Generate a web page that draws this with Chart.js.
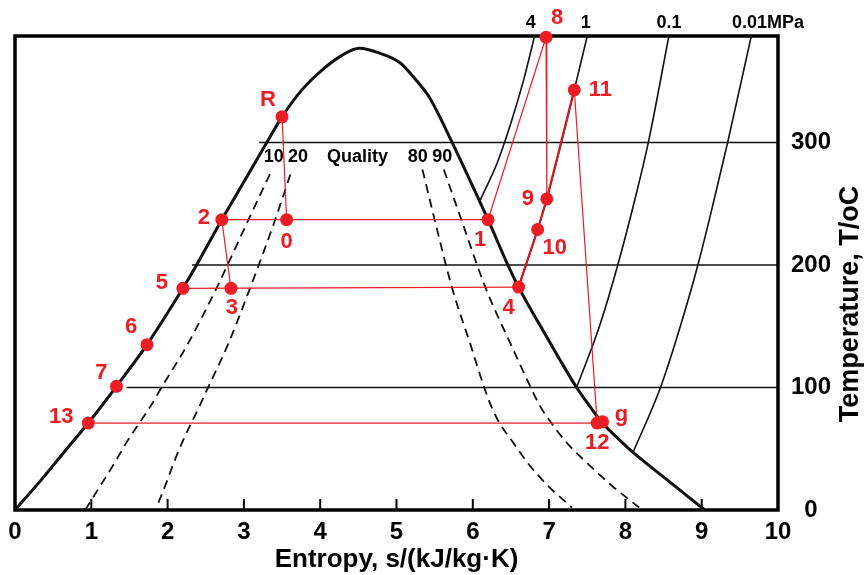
<!DOCTYPE html>
<html>
<head>
<meta charset="utf-8">
<script src="https://cdn.jsdelivr.net/npm/chart.js@4.4.0/dist/chart.umd.min.js"></script>
<style>
  html, body { margin: 0; padding: 0; background: #fff; }
  #wrap { width: 864px; height: 575px; }
</style>
</head>
<body>
<div id="wrap"><canvas id="graficoTS" width="864" height="575"></canvas></div>
<script>
// saturation dome (entropy kJ/kg.K, temperature C)
const domeS = [0, 0.35, 0.68, 0.96, 1.33, 1.73, 2.20, 2.38, 2.71, 3.02, 3.30, 3.50, 3.76, 4.02, 4.28, 4.51, 4.78, 5.05, 5.27, 5.43, 5.73, 6.09, 6.20, 6.46, 6.60, 6.86, 7.12, 7.36, 7.53, 7.70, 7.96, 8.10, 8.56, 9.04];
const domeT = [0, 25, 50, 71, 101, 135, 181, 200, 237, 270, 300, 321, 343, 359, 371, 377, 373, 365, 350, 337, 300, 252, 237, 200, 182, 153, 125, 100, 85, 71, 55, 47, 24, 0];

// quality lines (10, 20, 80, 90 %)
const q10S = [0.92, 1.12, 1.32, 1.46, 1.63, 1.78, 1.92, 2.26, 2.64, 3.06, 3.37];
const q10T = [0, 20, 40, 55, 71, 85, 100, 135, 181, 237, 278];
const q20S = [1.88, 1.97, 2.09, 2.19, 2.31, 2.42, 2.53, 2.79, 3.08, 3.41, 3.63];
const q20T = [6, 20, 40, 55, 71, 85, 100, 135, 181, 237, 278];
const q80S = [5.34, 5.50, 5.73, 5.97, 6.15, 6.24, 6.35, 6.53, 6.70, 6.98, 7.30];
const q80T = [278, 237, 181, 135, 100, 85, 71, 55, 40, 20, 2];
const q90S = [5.62, 5.85, 6.17, 6.50, 6.76, 6.88, 7.03, 7.23, 7.47, 7.82, 8.18];
const q90T = [278, 237, 181, 135, 100, 85, 71, 55, 40, 20, 2];

// isobars
const p4S = [6.09, 6.33, 6.52, 6.67, 6.81];
const p4T = [252, 285, 320, 352, 387];
const p1S = [6.60, 6.85, 6.97, 7.33, 7.50];
const p1T = [182, 229, 254, 343, 387];
const p01S = [7.36, 7.66, 7.90, 8.11, 8.30, 8.57];
const p01T = [100, 150, 200, 250, 300, 387];
const p001S = [8.10, 8.46, 8.72, 8.95, 9.15, 9.34, 9.65];
const p001T = [47, 100, 150, 200, 250, 300, 387];
const pressureLabels = ['4', '1', '0.1', '0.01MPa'];
const pressureLabelS = [6.76, 7.48, 8.57, 9.87];

// isotherms 100/200/300 start at the liquid line
const isoT = [100, 200, 300];
const isoStartS = [1.46, 2.32, 3.20];

// quality labels
const qualityLabels = ['10', '20', 'Quality', '80', '90'];
const qualityLabelS = [3.39, 3.71, 4.49, 5.28, 5.60];
const qualityLabelT = 288;

// cycle states
const stateNames = ['R', '0', '1', '2', '3', '4', '5', '6', '7', '13', '12', 'g', '8', '9', '10', '11'];
const stateS = [3.50, 3.56, 6.20, 2.71, 2.83, 6.60, 2.20, 1.73, 1.33, 0.96, 7.63, 7.70, 6.96, 6.97, 6.85, 7.33];
const stateT = [321, 237, 237, 237, 181, 182, 181, 135, 101, 71, 71, 72, 386, 254, 229, 343];
// label offsets in px (style only)
const labelDx = [-14, 0, -8, -18, 1, -10, -21, -16, -15, -27, 0, 19, 11, -19, 17, 26];
const labelDy = [-17, 22, 20, -2, 20, 21, -5, -18, -13, -6, 20, -7, -19, 0, 18, 0];

const redSegments = [['R', '0'], ['2', '1'], ['2', '3'], ['5', '4'], ['13', '12'], ['8', '1'], ['8', '9'], ['11', '12']];
const heatingPath = ['4', '10', '9', '11'];

const xTicks = [0, 1, 2, 3, 4, 5, 6, 7, 8, 9, 10];
const yTicks = [0, 100, 200, 300];

const RED = '#ec1c24';
const FONT = "'Liberation Sans', Arial, sans-serif";

const pts = (s, t) => s.map((v, i) => ({ x: v, y: t[i] }));
const state = n => { const i = stateNames.indexOf(n); return { x: stateS[i], y: stateT[i] }; };

const blackLine = (data, width, extra) => Object.assign({
  data, showLine: true, borderColor: '#111', borderWidth: width,
  pointRadius: 0, cubicInterpolationMode: 'monotone', fill: false
}, extra || {});

const datasets = [];
// red dots on top
datasets.push({
  data: pts(stateS, stateT), showLine: false, pointRadius: 6.5, pointHoverRadius: 6.5,
  backgroundColor: RED, borderColor: RED, borderWidth: 0, clip: false
});
datasets.push({
  data: heatingPath.map(state), showLine: true, borderColor: '#d21a20', borderWidth: 2.2,
  pointRadius: 0, tension: 0
});
redSegments.forEach(([a, b]) => datasets.push({
  data: [state(a), state(b)], showLine: true, borderColor: RED, borderWidth: 1.2,
  pointRadius: 0, tension: 0, clip: false
}));
// dome
datasets.push(blackLine(pts(domeS, domeT), 3));
// quality lines
[[q10S, q10T], [q20S, q20T], [q80S, q80T], [q90S, q90T]].forEach(([s, t]) =>
  datasets.push(blackLine(pts(s, t), 1.8, { borderDash: [9, 6] })));
// isobars
[[p4S, p4T], [p1S, p1T], [p01S, p01T], [p001S, p001T]].forEach(([s, t]) =>
  datasets.push(blackLine(pts(s, t), 1.6)));
// isotherms
isoT.forEach((t, i) => datasets.push(blackLine([{ x: isoStartS[i], y: t }, { x: 10, y: t }], 1.6)));

const extras = {
  id: 'extras',
  beforeDatasetsDraw(chart) {
    const { ctx, chartArea: a, scales: { x } } = chart;
    ctx.save();
    ctx.strokeStyle = '#000';
    ctx.lineWidth = 2;
    xTicks.forEach(v => {
      const px = x.getPixelForValue(v);
      ctx.beginPath(); ctx.moveTo(px, a.bottom); ctx.lineTo(px, a.bottom - 11); ctx.stroke();
    });
    ctx.lineWidth = 3.5;
    ctx.strokeRect(a.left, a.top, a.right - a.left, a.bottom - a.top);
    ctx.restore();
  },
  afterDatasetsDraw(chart) {
    const { ctx, chartArea: a, scales: { x, y } } = chart;
    ctx.save();
    ctx.textAlign = 'center';
    ctx.textBaseline = 'middle';
    // pressure labels above the frame
    ctx.fillStyle = '#000';
    ctx.font = 'bold 18px ' + FONT;
    pressureLabels.forEach((t, i) => ctx.fillText(t, x.getPixelForValue(pressureLabelS[i]), a.top - 13));
    // quality labels
    qualityLabels.forEach((t, i) => ctx.fillText(t, x.getPixelForValue(qualityLabelS[i]), y.getPixelForValue(qualityLabelT)));
    // state labels
    ctx.fillStyle = RED;
    ctx.font = 'bold 22px ' + FONT;
    stateNames.forEach((n, i) => {
      ctx.fillText(n, x.getPixelForValue(stateS[i]) + labelDx[i], y.getPixelForValue(stateT[i]) + labelDy[i]);
    });
    // y title, reading upward
    ctx.fillStyle = '#000';
    ctx.font = 'bold 27px ' + FONT;
    ctx.translate(a.right + 73, 304);
    ctx.rotate(-Math.PI / 2);
    ctx.fillText('Temperature, T/oC', 0, 0);
    ctx.restore();
  }
};

new Chart(document.getElementById('graficoTS').getContext('2d'), {
  type: 'scatter',
  data: { datasets },
  options: {
    responsive: false,
    animation: false,
    layout: { padding: { left: 15, top: 36, right: 0, bottom: 0 } },
    plugins: { legend: { display: false }, tooltip: { enabled: false } },
    scales: {
      x: {
        type: 'linear', min: 0, max: 10,
        afterBuildTicks: s => { s.ticks = xTicks.map(v => ({ value: v })); },
        afterFit: s => { s.height = 65; },
        grid: { display: false, drawTicks: false },
        border: { display: false },
        ticks: { color: '#000', padding: 8, font: { family: FONT, weight: 'bold', size: 24 } },
        title: {
          display: true, text: 'Entropy, s/(kJ/kg·K)', color: '#000', padding: 0,
          font: { family: FONT, weight: 'bold', size: 26 }
        }
      },
      y: {
        type: 'linear', position: 'right', min: 0, max: 387,
        afterBuildTicks: s => { s.ticks = yTicks.map(v => ({ value: v })); },
        afterFit: s => { s.width = 86; },
        grid: { display: false, drawTicks: false },
        border: { display: false },
        ticks: { color: '#000', padding: 13, crossAlign: 'center', font: { family: FONT, weight: 'bold', size: 24 } }
      }
    }
  },
  plugins: [extras]
});
</script>
</body>
</html>
